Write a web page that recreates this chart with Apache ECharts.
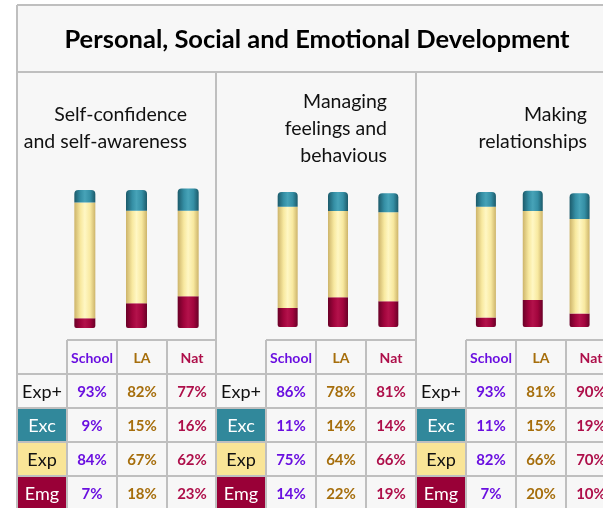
<!DOCTYPE html>
<html>
<head>
<meta charset="utf-8">
<script src="https://cdn.jsdelivr.net/npm/echarts@6/dist/echarts.min.js"></script>
<style>
html,body{margin:0;padding:0;background:#ffffff;}
#chart{width:603px;height:508px;}
</style>
</head>
<body>
<div id="chart"></div>
<script>
// ---- data ----
const mainTitle = 'Personal, Social and Emotional Development';
const categories = ['School', 'LA', 'Nat'];
const rowLabels = ['Exp+', 'Exc', 'Exp', 'Emg'];
const panelTitles = ['Self-confidence\nand self-awareness', 'Managing\nfeelings and\nbehavious', 'Making\nrelationships'];
const expPlus = [[93, 82, 77], [86, 78, 81], [93, 81, 90]];
const exc = [[9, 15, 16], [11, 14, 14], [11, 15, 19]];
const exp = [[84, 67, 62], [75, 64, 66], [82, 66, 70]];
const emg = [[7, 18, 23], [14, 22, 19], [7, 20, 10]];

// ---- layout / style ----
const FONT = 'Lato, "Open Sans", sans-serif';
const LINE = '#bfbfbf';
const CELL_BG = '#f7f7f7';
const headColors = ['#6a0fe0', '#a66e0c', '#ae0f4a'];
const labelFill = [null, '#31889b', '#f9e597', '#990037'];
const labelText = ['#111', '#fff', '#111', '#fff'];
const panelX = [17, 216, 416, 616];
const rowY = [340, 374, 408, 442, 476, 510];
const gridDefs = [
  {left: 59, width: 155, top: 190, height: 138, bw: 21},
  {left: 262.5, width: 151, top: 192, height: 135, bw: 20},
  {left: 462.5, width: 151, top: 192, height: 135, bw: 20}
];

function grad(edge, mid, light) {
  return {type: 'linear', x: 0, y: 0, x2: 1, y2: 0, colorStops: [
    {offset: 0, color: edge}, {offset: 0.3, color: mid}, {offset: 0.5, color: light},
    {offset: 0.75, color: mid}, {offset: 1, color: edge}]};
}
const stackDefs = [
  {name: 'Emg', data: emg, color: grad('#6a0027', '#a2053d', '#b3124b'), radius: [0, 0, 2, 2]},
  {name: 'Exp', data: exp, color: grad('#cdb46a', '#f8e9a0', '#fff7c4'), radius: 0},
  {name: 'Exc', data: exc, color: grad('#1c5a6a', '#358fa5', '#47a3b8'), radius: [4, 4, 0, 0]}
];

const grids = [], xAxes = [], yAxes = [], series = [];
gridDefs.forEach((g, p) => {
  grids.push({left: g.left, width: g.width, top: g.top, height: g.height});
  xAxes.push({type: 'category', gridIndex: p, data: categories, show: false});
  yAxes.push({type: 'value', gridIndex: p, min: 0, max: 100, show: false});
  stackDefs.forEach(s => {
    series.push({
      type: 'bar', name: s.name, xAxisIndex: p, yAxisIndex: p, stack: 'p' + p,
      data: s.data[p], barWidth: g.bw, clip: false, silent: true,
      itemStyle: {color: s.color, borderRadius: s.radius}
    });
  });
});

// ---- table graphics ----
const gfx = [];
gfx.push({type: 'rect', shape: {x: panelX[0], y: 5, width: panelX[3] - panelX[0], height: 520}, style: {fill: CELL_BG}, z: -10});
function line(x1, y1, x2, y2) {
  gfx.push({type: 'line', shape: {x1, y1, x2, y2}, style: {stroke: LINE, lineWidth: 2}, z: 5});
}
// label cell fills
for (let p = 0; p < 3; p++) {
  for (let r = 1; r < 4; r++) {
    gfx.push({type: 'rect', shape: {x: panelX[p], y: rowY[r + 1], width: 50, height: rowY[r + 2] - rowY[r + 1]},
      style: {fill: labelFill[r]}, z: 1});
  }
}
// outer & title lines
line(panelX[0], 5, panelX[3], 5);
line(panelX[0], 72, panelX[3], 72);
line(panelX[0], 5, panelX[0], 520);
for (let p = 1; p < 4; p++) line(panelX[p], 72, panelX[p], 520);
// table lines
for (let p = 0; p < 3; p++) {
  const c0 = panelX[p], c1 = c0 + 50, c2 = c0 + 100, c3 = c0 + 150, c4 = panelX[p + 1];
  line(c1, rowY[0], c4, rowY[0]);
  for (let r = 1; r < 5; r++) line(c0, rowY[r], c4, rowY[r]);
  [c1, c2, c3].forEach(cx => line(cx, rowY[0], cx, 520));
}
// title
gfx.push({type: 'text', x: 317, y: 40, style: {text: mainTitle, font: 'bold 25.5px ' + FONT, fill: '#000', align: 'center', verticalAlign: 'middle'}, z: 10});
// panel titles
panelTitles.forEach((t, p) => {
  gfx.push({type: 'text', x: panelX[p + 1] - 29, y: 128.5, style: {text: t, font: '19.5px ' + FONT, fill: '#111', align: 'right', verticalAlign: 'middle', lineHeight: 27}, z: 10});
});
// cell texts
const rowsData = [expPlus, exc, exp, emg];
for (let p = 0; p < 3; p++) {
  const c0 = panelX[p];
  categories.forEach((c, i) => {
    const cx = c0 + 75 + 50 * i;
    gfx.push({type: 'text', x: cx, y: (rowY[0] + rowY[1]) / 2 + 1, style: {text: c, font: 'bold 14px ' + FONT, fill: headColors[i], align: 'center', verticalAlign: 'middle'}, z: 10});
    rowsData.forEach((arr, r) => {
      gfx.push({type: 'text', x: cx, y: (rowY[r + 1] + rowY[r + 2]) / 2 + 1, style: {text: arr[p][i] + '%', font: 'bold 15px ' + FONT, fill: headColors[i], align: 'center', verticalAlign: 'middle'}, z: 10});
    });
  });
  rowLabels.forEach((l, r) => {
    gfx.push({type: 'text', x: c0 + 25, y: (rowY[r + 1] + rowY[r + 2]) / 2 + 1, style: {text: l, font: '18px ' + FONT, fill: labelText[r], align: 'center', verticalAlign: 'middle'}, z: 10});
  });
}

const chart = echarts.init(document.getElementById('chart'), null, {renderer: 'canvas'});
chart.setOption({
  animation: false,
  backgroundColor: '#ffffff',
  grid: grids, xAxis: xAxes, yAxis: yAxes, series: series,
  graphic: {elements: gfx}
});
</script>
</body>
</html>
